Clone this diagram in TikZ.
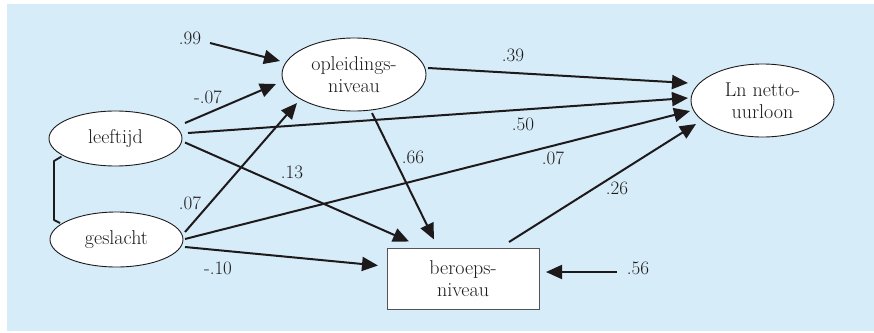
\documentclass[tikz,border=0pt]{standalone}
\usepackage{fontspec}
\usetikzlibrary{shapes.geometric,arrows.meta,calc}
\definecolor{panel}{RGB}{214,236,249}
\definecolor{ink}{RGB}{30,26,27}
\newcommand{\diagfont}[1]{\rmfamily\fontsize{#1}{22}\selectfont\addfontfeature{FakeBold=0.35}}
\tikzset{
  var/.style={ellipse,draw=ink,line width=0.9pt,fill=white,inner sep=0pt,
    align=center,font=\diagfont{20},text=ink},
  obs/.style={rectangle,draw=ink!75,line width=1pt,fill=white,inner sep=0pt,
    align=center,font=\diagfont{20},text=ink},
  path/.style={draw=ink,line width=2pt,-{Triangle[length=16pt,width=14pt]}},
  coef/.style={font=\diagfont{19},text=ink,inner sep=0pt},
}
\begin{document}
\begin{tikzpicture}[x=1pt,y=-1pt]
  % page and coloured panel
  \useasboundingbox (0,0) rectangle (874,332);
  \fill[panel] (7,4) rectangle (874,331);

  % variables
  \node[var,minimum width=144pt,minimum height=73pt] (op) at (354,74.5) {opleidings-\\niveau};
  \node[var,minimum width=133pt,minimum height=55pt] (lf) at (115.5,138.5) {leeftijd};
  \node[var,minimum width=133pt,minimum height=55pt] (gs) at (116.5,239.5) {geslacht};
  \node[var,minimum width=143pt,minimum height=73pt] (ln) at (762.5,100.5) {Ln netto-\\uurloon};
  \node[obs,minimum width=152pt,minimum height=61pt] (br) at (463,278.5) {beroeps-\\niveau};

  % residual terms
  \node[coef] (r99) at (190,38) {.99};
  \coordinate (r99s) at (210,43);
  \node[coef] (r56) at (638,268) {.56};
  \coordinate (r56s) at (617,272);

  % correlation between the exogenous variables
  \draw[ink,line width=1.8pt,line join=round]
    ([shift={(-54,18)}]lf.center) -- ([shift={(-61.5,22.5)}]lf.center)
    -- ([shift={(-62.5,-19.5)}]gs.center) -- ([shift={(-56.5,-16.5)}]gs.center);

  % paths
  \draw[path] (r99s) -- ([shift={(-74,-13.5)}]op.center);
  \draw[path] ([shift={(69.5,-15.5)}]lf.center) -- ([shift={(-78,9.5)}]op.center);
  \draw[path] ([shift={(72.5,-5.5)}]lf.center) -- ([shift={(-74.5,-2.5)}]ln.center);
  \draw[path] ([shift={(69.5,4)}]lf.center) -- ([shift={(-54,-37)}]br.center);
  \draw[path] ([shift={(74,-6.5)}]op.center) -- ([shift={(-74.5,-17.5)}]ln.center);
  \draw[path] ([shift={(18,38.5)}]op.center) -- ([shift={(-29,-39)}]br.center);
  \draw[path] ([shift={(68.5,-7.5)}]gs.center) -- ([shift={(-57,28.5)}]op.center);
  \draw[path] ([shift={(68.5,-0.5)}]gs.center) -- ([shift={(-72.5,10.5)}]ln.center);
  \draw[path] ([shift={(68.5,7.5)}]gs.center) -- ([shift={(-85,-13)}]br.center);
  \draw[path] ([shift={(46,-36.5)}]br.center) -- ([shift={(-66.5,23.5)}]ln.center);
  \draw[path] (r56s) -- ([shift={(83,-6.5)}]br.center);

  % path coefficients
  \node[coef] at (208,97) {-.07};
  \node[coef] at (523,124) {.50};
  \node[coef] at (292,172) {.13};
  \node[coef] at (513,55) {.39};
  \node[coef] at (413,157) {.66};
  \node[coef] at (190,203) {.07};
  \node[coef] at (553,158) {.07};
  \node[coef] at (218,268) {-.10};
  \node[coef] at (617,188) {.26};
\end{tikzpicture}
\end{document}
